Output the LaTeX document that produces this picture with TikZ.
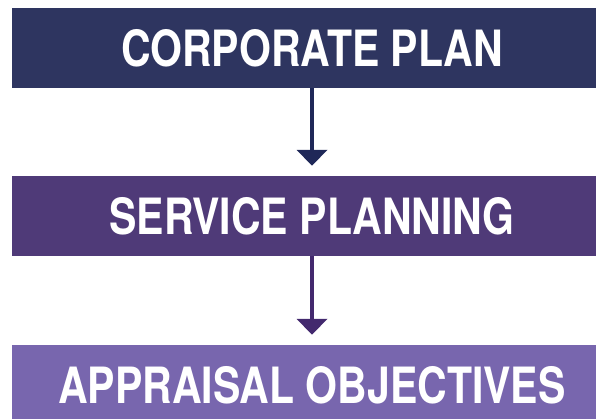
\documentclass[tikz,border=0pt]{standalone}
\usepackage{fontspec}
\setmainfont{TeX Gyre Heros}[FakeStretch=0.82]
\usetikzlibrary{arrows.meta,positioning}

\definecolor{corpblue}{HTML}{2E3560}
\definecolor{servpurple}{HTML}{4F3A78}
\definecolor{apprlilac}{HTML}{7866AE}
\definecolor{arrowblue}{HTML}{1F2858}
\definecolor{arrowpurple}{HTML}{43296E}

\tikzset{
  bar/.style={rectangle, minimum width=600pt, minimum height=80pt, inner sep=0pt,
    text=white, font=\fontsize{50}{50}\selectfont\bfseries},
  flow/.style={line width=4pt, -{Triangle[width=30pt,length=16pt]}, shorten >=10pt}
}

\begin{document}
\begin{tikzpicture}[x=1pt,y=1pt]
\clip (0,0) rectangle (596,419);
\useasboundingbox (0,0) rectangle (596,419);
\node[bar, fill=corpblue] (corp) at (312,371) {CORPORATE PLAN};
\node[bar, fill=servpurple] (serv) at (312,203) {SERVICE PLANNING};
\node[bar, fill=apprlilac] (appr) at (312,34) {APPRAISAL OBJECTIVES};

\draw[flow, arrowblue] (corp.south) -- (serv.north);
\draw[flow, arrowpurple] (serv.south) -- (appr.north);
\end{tikzpicture}
\end{document}
